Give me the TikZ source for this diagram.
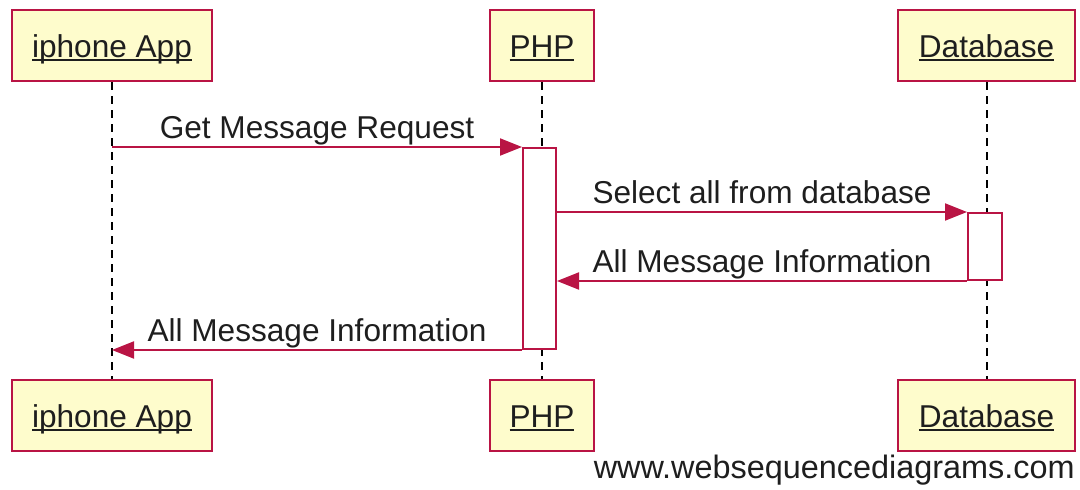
\documentclass[tikz,border=0pt]{standalone}
\usepackage{fontspec}
\setmainfont{Liberation Sans}
\usetikzlibrary{arrows.meta}
\definecolor{wsdred}{RGB}{185,20,68}
\definecolor{wsdfill}{RGB}{254,252,204}
\definecolor{wsdtext}{RGB}{30,30,30}
\newcommand{\ul}[1]{{\setbox0\hbox{#1}\rlap{\rule[-2pt]{\wd0}{0.8pt}}\box0}}
\tikzset{
  actor/.style={draw=wsdred, fill=wsdfill, line width=1.1pt, minimum height=35.5pt,
    inner sep=0pt, text=wsdtext, font=\fontsize{15.8}{19}\selectfont,
    text height=11.5pt, text depth=0pt},
  lifeline/.style={draw=black, line width=1pt, dash pattern=on 4pt off 3pt},
  activation/.style={draw=wsdred, fill=white, line width=1pt, minimum width=16.5pt, inner sep=0pt},
  msg/.style={draw=wsdred, line width=1pt, -{Triangle[length=11pt,width=8.5pt]}},
  msglabel/.style={anchor=base, text=wsdtext, font=\fontsize{15.8}{19}\selectfont, inner sep=0pt, yshift=4.5pt},
}
\begin{document}
\begin{tikzpicture}[x=0.5pt,y=-0.5pt]
\useasboundingbox (0,0) rectangle (1080,489);
% participants top
\node[actor, minimum width=100pt] (iTop) at (112,45.5) {\ul{iphone App}};
\node[actor, minimum width=52pt] (pTop) at (542,45.5) {\ul{PHP}};
\node[actor, minimum width=88.5pt] (dTop) at (986.5,45.5) {\ul{Database}};
% participants bottom
\node[actor, minimum width=100pt] (iBot) at (112,415.5) {\ul{iphone App}};
\node[actor, minimum width=52pt] (pBot) at (542,415.5) {\ul{PHP}};
\node[actor, minimum width=88.5pt] (dBot) at (986.5,415.5) {\ul{Database}};
% lifelines
\draw[lifeline] (iTop.south) -- (iBot.north);
\draw[lifeline] (pTop.south) -- (pBot.north);
\draw[lifeline] (dTop.south) -- (dBot.north);
% activations
\node[activation, minimum height=100.5pt] (act1) at (539.5,248.5) {};
\node[activation, minimum height=33.5pt, minimum width=17pt] (act2) at (985,246.5) {};
% messages
\draw[msg] (iTop.south |- act1.north west) -- (act1.north west)
  node[msglabel, midway] {Get Message Request};
\draw[msg] (act1.east |- act2.north west) -- (act2.north west)
  node[msglabel, midway] {Select all from database};
\draw[msg] (act2.south west) -- (act1.east |- act2.south west)
  node[msglabel, midway] {All Message Information};
\draw[msg] (act1.south west) -- (iTop.south |- act1.south west)
  node[msglabel, midway] {All Message Information};
% watermark
\node[anchor=base east, inner sep=0pt, text=wsdtext, font=\fontsize{16.2}{19}\selectfont] (wm) at (1075,478) {www.websequencediagrams.com};
\end{tikzpicture}
\end{document}
